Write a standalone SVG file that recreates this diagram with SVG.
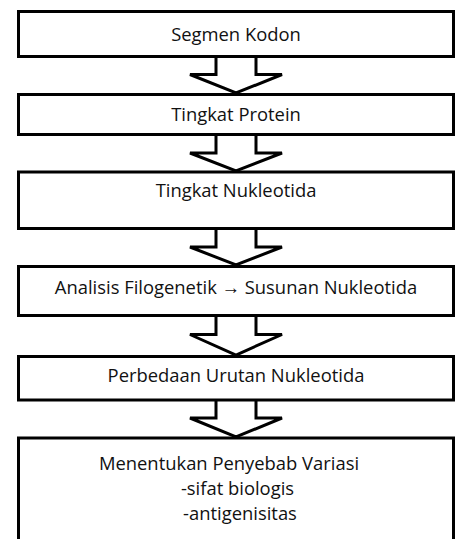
<svg xmlns="http://www.w3.org/2000/svg" width="465" height="539" viewBox="0 0 465 539">
<style>
.box{fill:#fff;stroke:#000;stroke-width:3}
.arr{fill:#fff;stroke:#000;stroke-width:3;stroke-linejoin:miter}
text{font-family:"Open Sans","Liberation Sans",sans-serif;font-size:18.4px;fill:#111;text-anchor:middle}
</style>
<rect width="465" height="539" fill="#fff"/>
<g id="connectors">
<path class="arr" d="M216,56.5 V74.5 H190 L236,93 L282,74.5 H256 V56.5"/>
<path class="arr" d="M216,134.5 V153 H190 L236,171 L282,153 H256 V134.5"/>
<path class="arr" d="M216,228.5 V247 H190 L236,265 L282,247 H256 V228.5"/>
<path class="arr" d="M216,315.5 V334.5 H190 L236,355 L282,334.5 H256 V315.5"/>
<path class="arr" d="M216,400 V418 H190 L236,437 L282,418 H256 V400"/>
</g>
<g id="n1"><rect class="box" x="18.5" y="11.5" width="435" height="45"/><text x="236" y="41">Segmen Kodon</text></g>
<g id="n2"><rect class="box" x="18.5" y="94.5" width="435" height="40"/><text x="236" y="121">Tingkat Protein</text></g>
<g id="n3"><rect class="box" x="18.5" y="172" width="435" height="56.5"/><text x="236" y="197">Tingkat Nukleotida</text></g>
<g id="n4"><rect class="box" x="18.5" y="266.5" width="435" height="49"/><text x="236" y="294">Analisis Filogenetik → Susunan Nukleotida</text></g>
<g id="n5"><rect class="box" x="18.5" y="356.5" width="435" height="43.5"/><text x="236" y="382">Perbedaan Urutan Nukleotida</text></g>
<g id="n6"><rect class="box" x="18.5" y="438" width="435" height="110"/>
<text x="229" y="470">Menentukan Penyebab Variasi</text>
<text x="237.5" y="495">-sifat biologis</text>
<text x="240" y="520">-antigenisitas</text></g>
</svg>
